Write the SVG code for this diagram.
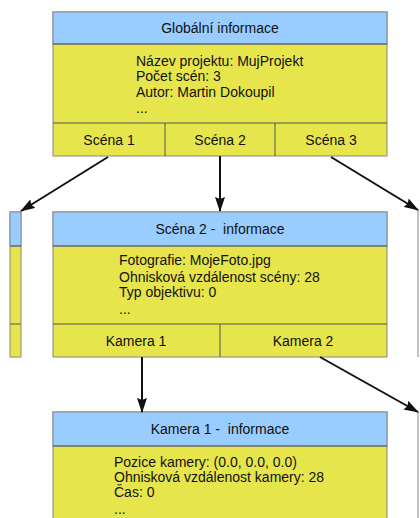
<svg xmlns="http://www.w3.org/2000/svg" width="420" height="518" viewBox="0 0 420 518">
<defs>
<style>
text{font-family:"Liberation Sans",Arial,sans-serif;font-size:14px;fill:#111;white-space:pre}
.hd{fill:#99ccff;stroke:#888;stroke-width:1}
.bd{fill:#e6e64c;stroke:#888;stroke-width:1}
.dv{stroke:#555;stroke-width:1}
.c{text-anchor:middle}
.ed{stroke:#111;stroke-width:2;fill:none;marker-end:url(#ah)}
</style>
<marker id="ah" markerWidth="15" markerHeight="10" refX="14" refY="5" orient="auto" markerUnits="userSpaceOnUse">
<path d="M0,0 L15,5 L0,10 L2,5 Z" fill="#111"/>
</marker>
</defs>
<rect width="420" height="518" fill="#fff"/>

<g id="globalni">
<rect class="bd" x="53" y="12" width="334" height="144"/>
<rect class="hd" x="53" y="12" width="334" height="32"/>
<line class="dv" x1="53" y1="44" x2="387" y2="44"/>
<line class="dv" x1="53" y1="123" x2="387" y2="123"/>
<line class="dv" x1="165" y1="123" x2="165" y2="156"/>
<line class="dv" x1="275" y1="123" x2="275" y2="156"/>
<text class="c" x="220" y="33">Globální informace</text>
<text x="136" y="66">Název projektu: MujProjekt</text>
<text x="136" y="81">Počet scén: 3</text>
<text x="136" y="97">Autor: Martin Dokoupil</text>
<text x="136" y="113">...</text>
<text class="c" x="109" y="145">Scéna 1</text>
<text class="c" x="220" y="145">Scéna 2</text>
<text class="c" x="331" y="145">Scéna 3</text>
</g>

<g id="scena1">
<rect class="bd" x="10" y="212" width="11" height="145"/>
<rect class="hd" x="10" y="212" width="11" height="34"/>
<line class="dv" x1="10" y1="246" x2="21" y2="246"/>
<line class="dv" x1="10" y1="324" x2="21" y2="324"/>
</g>

<g id="scena3">
<line x1="418" y1="210" x2="418" y2="357" stroke="#888" stroke-width="1"/>
</g>

<g id="scena2">
<rect class="bd" x="53" y="212" width="334" height="145"/>
<rect class="hd" x="53" y="212" width="334" height="34"/>
<line class="dv" x1="53" y1="246" x2="387" y2="246"/>
<line class="dv" x1="53" y1="324" x2="387" y2="324"/>
<line class="dv" x1="220" y1="324" x2="220" y2="357"/>
<text class="c" x="220" y="234">Scéna 2 -  informace</text>
<text x="119" y="265">Fotografie: MojeFoto.jpg</text>
<text x="119" y="282">Ohnisková vzdálenost scény: 28</text>
<text x="119" y="297">Typ objektivu: 0</text>
<text x="119" y="314">...</text>
<text class="c" x="136" y="346">Kamera 1</text>
<text class="c" x="303" y="346">Kamera 2</text>
</g>

<g id="kamera1">
<rect class="bd" x="53" y="412" width="334" height="120"/>
<rect class="hd" x="53" y="412" width="334" height="34"/>
<line class="dv" x1="53" y1="446" x2="387" y2="446"/>
<text class="c" x="220" y="434">Kamera 1 -  informace</text>
<text x="114" y="467">Pozice kamery: (0.0, 0.0, 0.0)</text>
<text x="114" y="482">Ohnisková vzdálenost kamery: 28</text>
<text x="114" y="497">Čas: 0</text>
<text x="114" y="514">...</text>
</g>

<g id="kamera2">
<line x1="418" y1="412" x2="418" y2="518" stroke="#888" stroke-width="1"/>
</g>

<g id="connectors">
<line class="ed" x1="108" y1="157" x2="21" y2="211"/>
<line class="ed" x1="220" y1="156" x2="220" y2="211"/>
<line class="ed" x1="331" y1="157" x2="418" y2="210"/>
<line class="ed" x1="142" y1="357" x2="142" y2="412"/>
<line class="ed" x1="320" y1="357" x2="418" y2="412"/>
</g>
</svg>
